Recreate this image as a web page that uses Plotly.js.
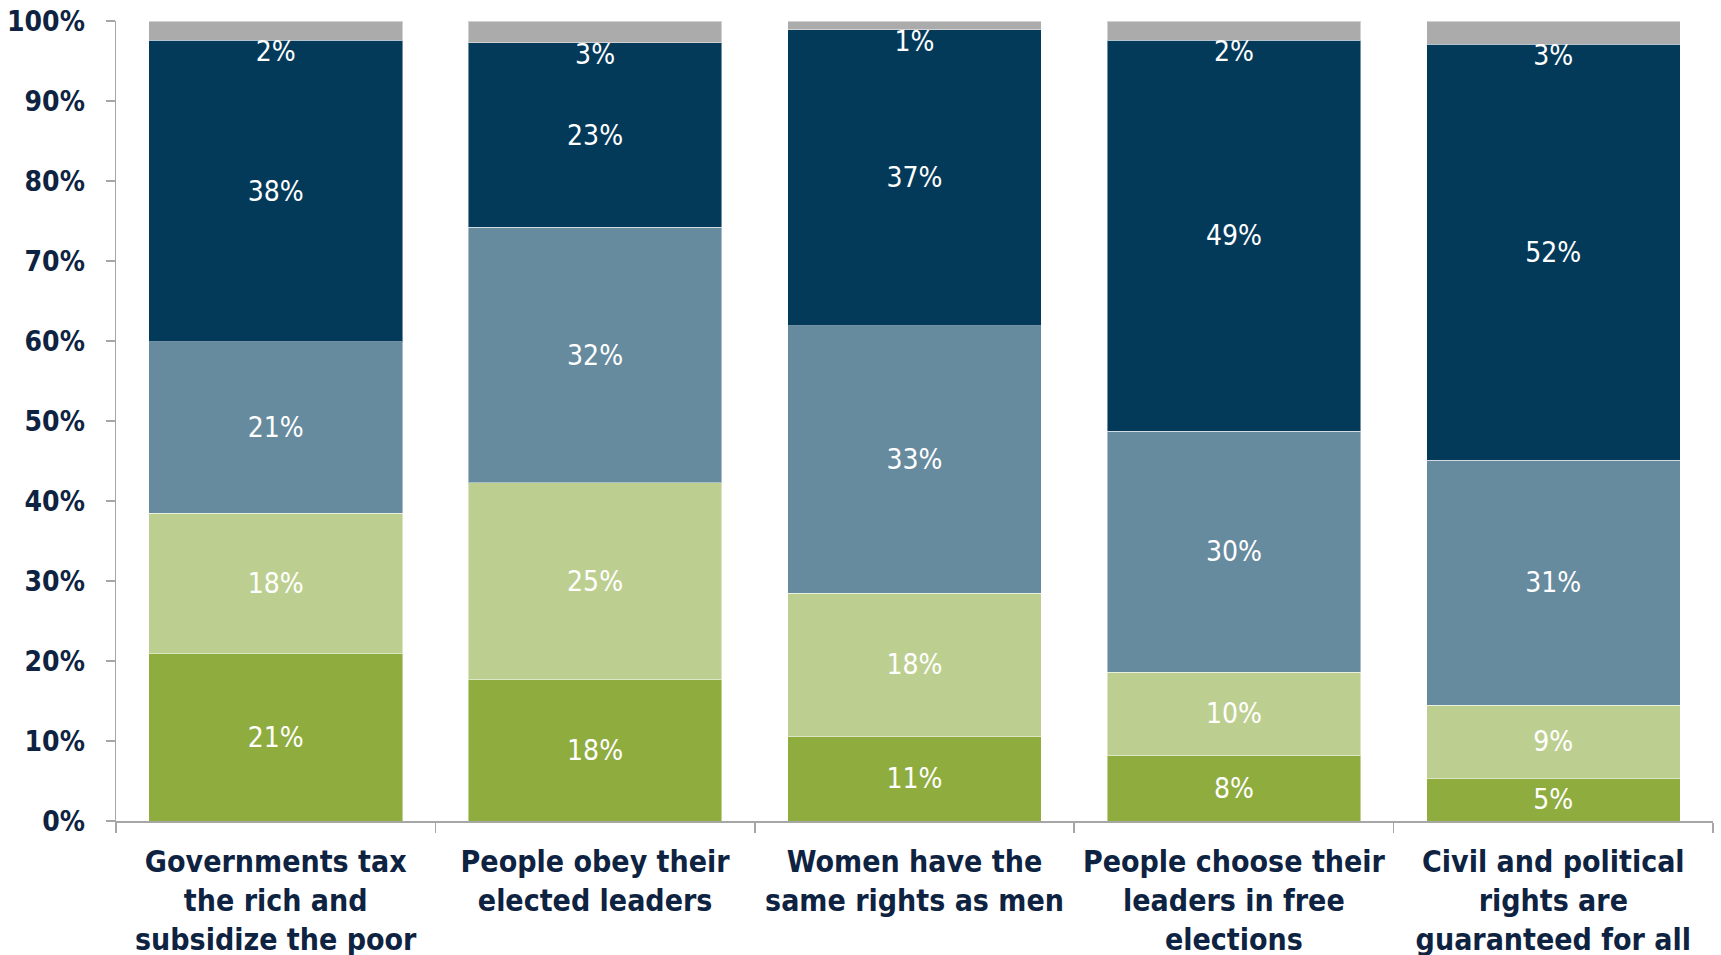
<!DOCTYPE html>
<html>
<head>
<meta charset="utf-8">
<script src="https://cdn.plot.ly/plotly-3.0.1.min.js"></script>
<style>
  html, body { margin: 0; padding: 0; background: #ffffff; }
  #chart { width: 1721px; height: 955px; }
</style>
</head>
<body>
<div id="chart"></div>
<script>
// Categories (x-axis labels)
const categories = [
  "Governments tax<br>the rich and<br>subsidize the poor",
  "People obey their<br>elected leaders",
  "Women have the<br>same rights as men",
  "People choose their<br>leaders in free<br>elections",
  "Civil and political<br>rights are<br>guaranteed for all"
];

// Series values (percent), bottom to top
const seriesGreen      = [20.9, 17.7, 10.6, 8.2, 5.3];
const seriesLightGreen = [17.6, 24.6, 17.9, 10.4, 9.2];
const seriesSlate      = [21.4, 31.9, 33.4, 30.1, 30.6];
const seriesNavy       = [37.7, 23.1, 37.0, 48.9, 52.0];
const seriesGray       = [2.4, 2.7, 1.1, 2.4, 2.9];

// Labels shown on bars (as printed in the chart)
const labelsGreen      = ["21%", "18%", "11%", "8%", "5%"];
const labelsLightGreen = ["18%", "25%", "18%", "10%", "9%"];
const labelsSlate      = ["21%", "32%", "33%", "30%", "31%"];
const labelsNavy       = ["38%", "23%", "37%", "49%", "52%"];
const labelsGray       = ["2%", "3%", "1%", "2%", "3%"];

const yTickVals = [0, 10, 20, 30, 40, 50, 60, 70, 80, 90, 100];
const yTickText = ["0%", "10%", "20%", "30%", "40%", "50%", "60%", "70%", "80%", "90%", "100%"];

const colors = {
  green: "#8fac3f",
  lightGreen: "#bdcf90",
  slate: "#668a9e",
  navy: "#033a5a",
  gray: "#ababab"
};

const FONT = "'DejaVu Sans Condensed', 'DejaVu Sans', sans-serif";
const barText = { family: FONT, size: 28, color: "#ffffff" };

function barTrace(name, y, text, color, showText) {
  return {
    type: "bar",
    name: name,
    x: categories,
    y: y,
    text: text,
    textposition: showText ? "inside" : "none",
    insidetextanchor: "middle",
    constraintext: "none",
    textangle: 0,
    textfont: barText,
    marker: { color: color, line: { color: "rgba(255,255,255,0.45)", width: 1 } },
    hoverinfo: "skip"
  };
}

// Position for gray labels: the top of the navy segment (sum of lower series)
const navyTop = categories.map((c, i) =>
  seriesGreen[i] + seriesLightGreen[i] + seriesSlate[i] + seriesNavy[i]);

const data = [
  barTrace("green", seriesGreen, labelsGreen, colors.green, true),
  barTrace("lightGreen", seriesLightGreen, labelsLightGreen, colors.lightGreen, true),
  barTrace("slate", seriesSlate, labelsSlate, colors.slate, true),
  barTrace("navy", seriesNavy, labelsNavy, colors.navy, true),
  barTrace("gray", seriesGray, labelsGray, colors.gray, false),
  {
    type: "scatter",
    mode: "text",
    x: categories,
    y: navyTop,
    text: labelsGray,
    textposition: "bottom center",
    textfont: barText,
    marker: { size: 1 },
    hoverinfo: "skip",
    showlegend: false,
    cliponaxis: false
  }
];

const layout = {
  width: 1721,
  height: 955,
  margin: { l: 116, r: 8, t: 21, b: 134 },
  paper_bgcolor: "#ffffff",
  plot_bgcolor: "#ffffff",
  barmode: "stack",
  bargap: 0.206,
  showlegend: false,
  font: { family: FONT, color: "#0e2341" },
  xaxis: {
    type: "category",
    tickson: "boundaries",
    ticks: "outside",
    ticklen: 10,
    tickcolor: "#a6a6a6",
    tickwidth: 1.5,
    showline: true,
    linecolor: "#a6a6a6",
    linewidth: 1.5,
    showgrid: false,
    zeroline: false,
    tickangle: 0,
    ticklabelstandoff: 13,
    tickfont: { family: FONT, size: 30, color: "#0e2341", weight: "bold" },
    fixedrange: true
  },
  yaxis: {
    range: [0, 100],
    tickvals: yTickVals,
    ticktext: yTickText,
    ticks: "outside",
    ticklen: 9,
    tickcolor: "#a6a6a6",
    tickwidth: 1.5,
    showline: true,
    linecolor: "#a6a6a6",
    linewidth: 1.5,
    showgrid: false,
    zeroline: false,
    ticklabelstandoff: 15,
    tickfont: { family: FONT, size: 28, color: "#0e2341", weight: "bold" },
    fixedrange: true
  }
};

Plotly.newPlot("chart", data, layout, { displayModeBar: false, staticPlot: true });
</script>
</body>
</html>
